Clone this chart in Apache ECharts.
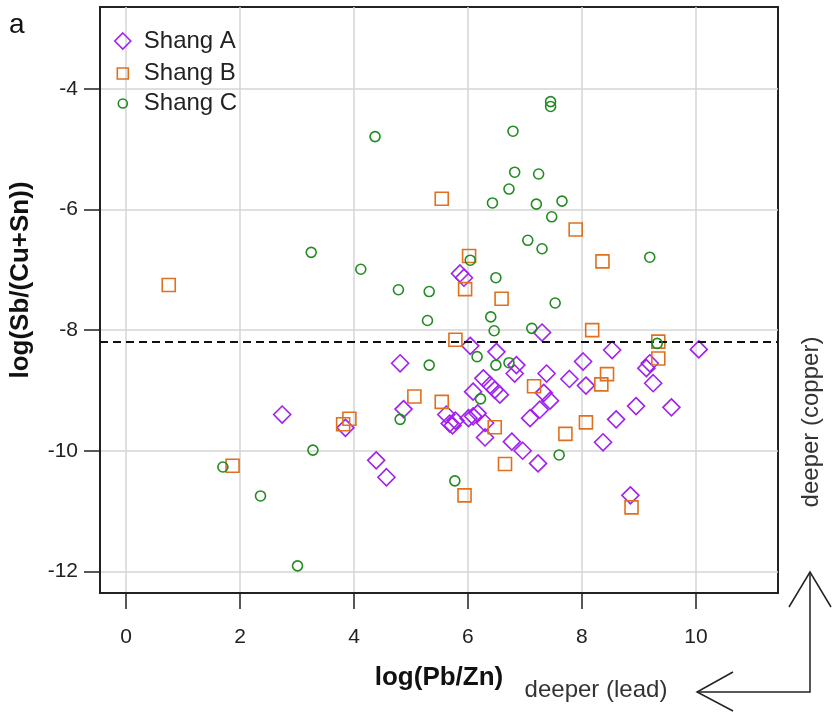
<!DOCTYPE html>
<html><head><meta charset="utf-8">
<script src="https://cdn.jsdelivr.net/npm/echarts@6/dist/echarts.min.js"></script>
<style>html,body{margin:0;padding:0;background:#fff}#c{width:832px;height:712px}</style>
</head><body><div id="c"></div>
<script>
// ---- data (log(Pb/Zn), log(Sb/(Cu+Sn))) ----
const seriesNames = ['Shang A', 'Shang B', 'Shang C'];
const shangA = [
  [2.74,-9.40],[3.85,-9.62],[4.39,-10.16],[4.57,-10.44],[4.81,-8.55],[4.87,-9.31],
  [5.86,-7.06],[5.93,-7.13],[6.04,-8.26],[6.50,-8.36],[7.30,-8.04],[8.53,-8.33],
  [10.05,-8.32],[8.02,-8.52],[6.85,-8.58],[6.82,-8.72],[7.38,-8.72],[7.78,-8.81],
  [8.07,-8.92],[6.27,-8.80],[6.39,-8.91],[6.47,-8.99],[6.56,-9.07],[6.09,-9.02],
  [7.33,-9.04],[7.44,-9.17],[7.26,-9.32],[7.09,-9.46],[9.13,-8.63],[9.19,-8.55],
  [9.25,-8.88],[8.95,-9.26],[9.57,-9.28],[8.60,-9.48],[8.37,-9.86],[8.85,-10.74],
  [7.23,-10.21],[6.96,-10.00],[6.77,-9.85],[6.30,-9.78],[6.09,-9.43],[6.30,-9.54],
  [6.01,-9.46],[5.68,-9.55],[5.73,-9.58],[5.78,-9.50],[5.62,-9.40],[6.17,-9.38]
];
const shangB = [
  [0.75,-7.25],[5.54,-5.82],[7.89,-6.33],[8.36,-6.86],[6.02,-6.77],[5.95,-7.32],
  [6.59,-7.48],[8.18,-8.00],[5.78,-8.16],[9.34,-8.19],[9.34,-8.47],[7.16,-8.93],
  [8.44,-8.73],[8.34,-8.90],[5.06,-9.10],[5.54,-9.19],[6.47,-9.61],[8.07,-9.53],
  [7.71,-9.72],[6.65,-10.22],[5.94,-10.74],[8.87,-10.94],[1.87,-10.25],[3.81,-9.56],
  [3.92,-9.47]
];
const shangC = [
  [4.37,-4.79],[3.25,-6.71],[4.12,-6.99],[4.78,-7.33],[7.45,-4.21],[7.45,-4.29],
  [6.79,-4.70],[6.82,-5.38],[7.24,-5.41],[6.72,-5.66],[6.43,-5.89],[7.20,-5.91],
  [7.65,-5.86],[7.47,-6.12],[7.05,-6.51],[7.30,-6.65],[9.19,-6.79],[6.04,-6.84],
  [6.49,-7.13],[5.32,-7.36],[7.53,-7.55],[6.40,-7.78],[6.46,-8.01],[5.29,-7.84],
  [7.12,-7.97],[9.32,-8.22],[6.16,-8.44],[5.32,-8.58],[6.49,-8.58],[6.72,-8.54],
  [6.22,-9.14],[4.81,-9.48],[7.60,-10.07],[5.77,-10.50],[1.70,-10.27],[3.28,-9.99],
  [2.36,-10.75],[3.01,-11.91]
];
const xTicks = [0, 2, 4, 6, 8, 10];
const yTicks = [-12, -10, -8, -6, -4];
const thresholdY = -8.2;
const xTitle = 'log(Pb/Zn)';
const yTitle = 'log(Sb/(Cu+Sn))';

// ---- styling ----
const FONT = '"Liberation Sans", Arial, Helvetica, sans-serif';
const colors = ['#A020F0', '#E0701E', '#228B22'];
const symbols = ['diamond', 'rect', 'circle'];
const sizes = [17, 13, 10];
const legendSizes = [16, 11, 9];
const legendRows = [37, 67, 96];
const legendIconX = 122, legendTextX = 143;
const dataSets = [shangA, shangB, shangC];

const chart = echarts.init(document.getElementById('c'), null, {renderer: 'canvas'});

const series = dataSets.map((d, i) => ({
  name: seriesNames[i],
  type: 'scatter',
  data: d,
  symbol: symbols[i],
  symbolSize: sizes[i],
  itemStyle: {color: 'rgba(0,0,0,0)', borderColor: colors[i], borderWidth: 1.6, opacity: 1},
  emphasis: {disabled: true},
  silent: true,
  z: 3 + i
}));
series.push({
  type: 'line', data: [], silent: true,
  markLine: {
    silent: true, symbol: ['none', 'none'], label: {show: false},
    lineStyle: {color: '#111', width: 2, type: [8, 5]},
    data: [{yAxis: thresholdY}]
  },
  z: 10
});

const legends = seriesNames.map((n, i) => {
  const s = legendSizes[i];
  const left = legendIconX - s / 2;
  const pad = legendTextX - (left + s + 5);
  return {
    data: [{name: n, icon: symbols[i], itemStyle: {color: 'rgba(0,0,0,0)', borderColor: colors[i], borderWidth: 1.6}}],
    left: left, top: legendRows[i] - s / 2, padding: 0,
    itemWidth: s, itemHeight: s,
    selectedMode: false,
    textStyle: {fontFamily: FONT, fontSize: 24, color: '#222', padding: [0, 0, 0, pad]}
  };
});

const tickStyle = {show: true, length: 16, inside: false, lineStyle: {color: '#222', width: 1.5}};

chart.setOption({
  animation: false,
  backgroundColor: '#fff',
  grid: {left: 100, right: 54, top: 7, bottom: 119, show: true, borderColor: '#222', borderWidth: 2, backgroundColor: 'transparent'},
  legend: legends,
  xAxis: {
    type: 'value', min: -0.456, max: 11.44,
    axisLine: {show: true, onZero: false, lineStyle: {color: '#222', width: 2}},
    axisTick: Object.assign({customValues: xTicks}, tickStyle),
    axisLabel: {customValues: xTicks, margin: 34, fontFamily: FONT, fontSize: 21, color: '#222'},
    splitLine: {show: true, lineStyle: {color: '#d4d4d4', width: 1.5}},
    name: xTitle, nameLocation: 'middle', nameGap: 72,
    nameTextStyle: {fontFamily: FONT, fontSize: 26, fontWeight: 'bold', color: '#111'}
  },
  yAxis: {
    type: 'value', min: -12.36, max: -2.64,
    axisLine: {show: true, onZero: false, lineStyle: {color: '#222', width: 2}},
    axisTick: Object.assign({customValues: yTicks}, tickStyle),
    axisLabel: {customValues: yTicks, margin: 22, fontFamily: FONT, fontSize: 21, color: '#222'},
    splitLine: {show: true, lineStyle: {color: '#d4d4d4', width: 1.5}},
    name: yTitle, nameLocation: 'middle', nameGap: 66,
    nameTextStyle: {fontFamily: FONT, fontSize: 26, fontWeight: 'bold', color: '#111', padding: [0, 0, 0, 40]}
  },
  series: series,
  graphic: [
    {type: 'text', x: 9, y: 25, style: {text: 'a', font: '28px ' + FONT, fill: '#111', align: 'left', verticalAlign: 'middle'}},
    {type: 'text', x: 811, y: 422, rotation: Math.PI / 2, style: {text: 'deeper (copper)', font: '24px ' + FONT, fill: '#333', align: 'center', verticalAlign: 'middle'}},
    {type: 'text', x: 596, y: 690, style: {text: 'deeper (lead)', font: '24px ' + FONT, fill: '#333', align: 'center', verticalAlign: 'middle'}},
    {type: 'polyline', shape: {points: [[698, 692], [810, 692], [810, 572]]}, style: {stroke: '#222', lineWidth: 1.5, fill: null}},
    {type: 'polyline', shape: {points: [[789, 607], [810, 572], [831, 607]]}, style: {stroke: '#222', lineWidth: 1.5, fill: null}},
    {type: 'polyline', shape: {points: [[733, 672], [697, 692], [733, 711]]}, style: {stroke: '#222', lineWidth: 1.5, fill: null}}
  ]
});
</script>
</body></html>
